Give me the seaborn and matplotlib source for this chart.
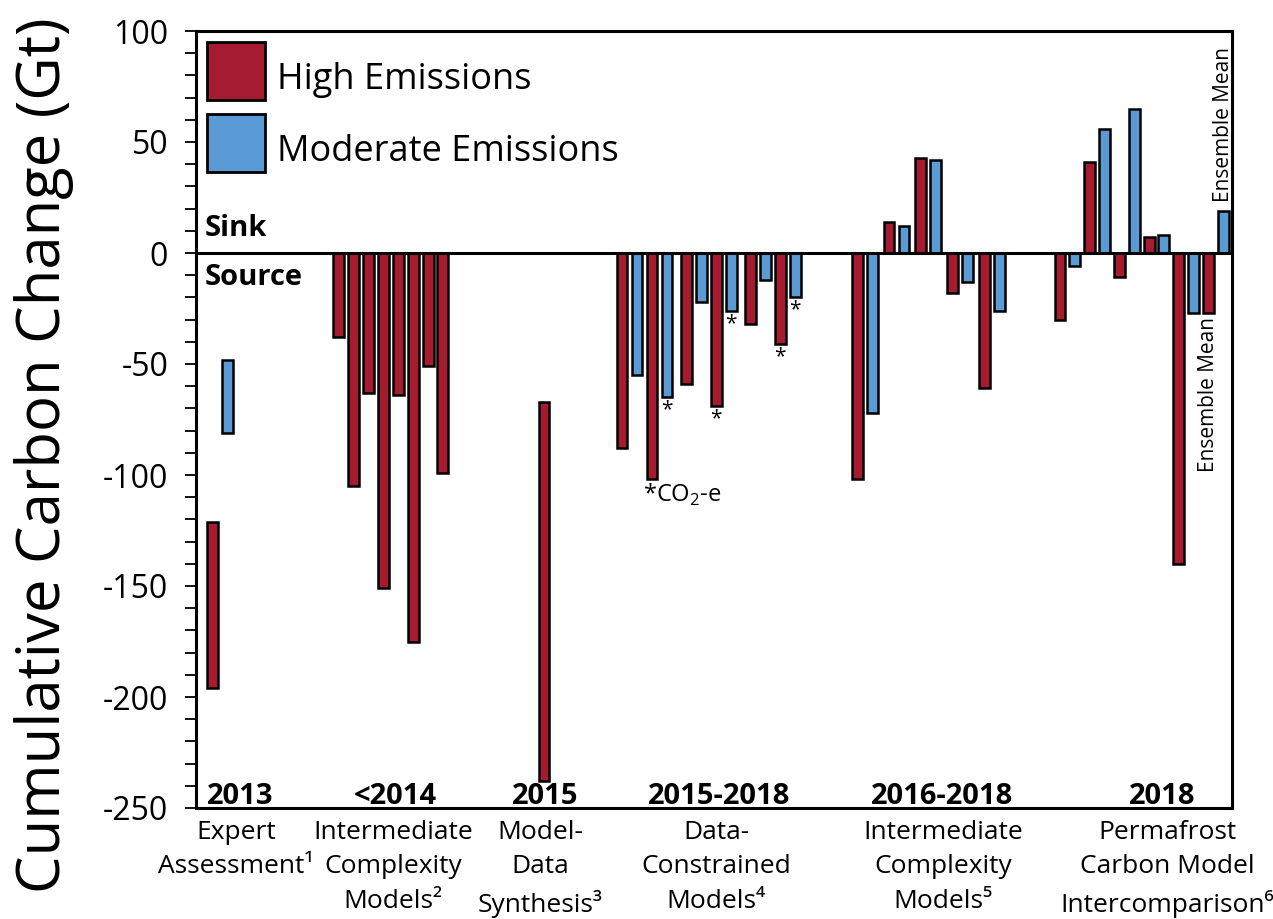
import numpy as np
import pandas as pd
import seaborn as sns
import matplotlib
matplotlib.use('Agg')
import matplotlib.pyplot as plt
from matplotlib.patches import Rectangle
from matplotlib.ticker import MultipleLocator

# Values (cumulative carbon change, Gt; negative = source)
years = ['2013', '<2014', '2015', '2015-2018', '2016-2018', '2018']
studies = ['Expert\nAssessment\u00b9',
           'Intermediate\nComplexity\nModels\u00b2',
           'Model-\nData\nSynthesis\u00b3',
           'Data-\nConstrained\nModels\u2074',
           'Intermediate\nComplexity\nModels\u2075',
           'Permafrost\nCarbon Model\nIntercomparison\u2076']

# ranges are (upper, lower)
expert_high = (-121, -196)
expert_moderate = (-48, -81)
synthesis_high = (-67, -238)

icm2014_high = [-38, -105, -63, -151, -64, -175, -51, -99]

dcm_high = [-88, -102, -59, -69, -32, -41]
dcm_moderate = [-55, -65, -22, -26, -12, -20]
dcm_co2e = [False, True, False, True, False, True]

icm2018_high = [-102, 14, 43, -18, -61]
icm2018_moderate = [-72, 12, 42, -13, -26]

pcmip_high = [-30, 41, -11, 7, -140]
pcmip_moderate = [-6, 56, 65, 8, -27]
ensemble_high = -27
ensemble_moderate = 19

# layout / style
RED = '#A51C30'
BLUE = '#5B9BD5'
STEP = 0.99
year_x = [2.93, 13.27, 23.27, 34.87, 49.73, 64.4]
study_x = [2.67, 13.13, 22.93, 34.67, 49.8, 64.75]

sns.set_style('ticks')
plt.rcParams['font.family'] = ['Open Sans', 'DejaVu Sans']
plt.rcParams['axes.unicode_minus'] = False
plt.rcParams['mathtext.fontset'] = 'custom'
plt.rcParams['mathtext.rm'] = 'Open Sans'
for k in ['text.color', 'axes.labelcolor', 'axes.edgecolor', 'xtick.color', 'ytick.color']:
    plt.rcParams[k] = 'black'

rows = []


def add(x, value, scen, base=0.0, star=False):
    rows.append(dict(x=x, value=value, base=base, scenario=scen, star=star))


add(1.13, expert_high[1], 'High', base=expert_high[0])
add(2.13, expert_moderate[1], 'Moderate', base=expert_moderate[0])
for i, v in enumerate(icm2014_high):
    add(9.53 + i * STEP, v, 'High')
add(23.2, synthesis_high[1], 'High', base=synthesis_high[0])
for i, (h, m, c) in enumerate(zip(dcm_high, dcm_moderate, dcm_co2e)):
    x = 28.4 + 2 * i + 0.27 * (i // 2)
    add(x, h, 'High', star=c)
    add(x + 1, m, 'Moderate', star=c)
for i, (h, m) in enumerate(zip(icm2018_high, icm2018_moderate)):
    x = 44.07 + 2.13 * i
    add(x, h, 'High')
    add(x + 1, m, 'Moderate')
for i, (h, m) in enumerate(zip(pcmip_high, pcmip_moderate)):
    x = 57.6 + 2 * i * STEP
    add(x, h, 'High')
    add(x + STEP, m, 'Moderate')
x_ens = 57.6 + 10 * STEP
add(x_ens, ensemble_high, 'High')
add(x_ens + STEP, ensemble_moderate, 'Moderate')

df = pd.DataFrame(rows)

fig = plt.figure(figsize=(12.73, 9.19), dpi=100)
ax = fig.add_axes([196 / 1273, 1 - 808 / 919, 1036 / 1273, 777 / 919])

sns.barplot(data=df, x='x', y='value', hue='scenario',
            palette={'High': RED, 'Moderate': BLUE}, native_scale=True,
            dodge=False, width=0.74, edgecolor='black', linewidth=1.8,
            saturation=1, errorbar=None, legend=False, ax=ax)

# floating ranges: move bars so they start at their upper value
for bar in ax.patches:
    cx = bar.get_x() + bar.get_width() / 2
    r = df.iloc[(df['x'] - cx).abs().argmin()]
    if r.base != 0:
        bar.set_y(r.base)
        bar.set_height(r.value - r.base)

ax.axhline(0, color='black', lw=2.2, zorder=4)
ax.set_xlim(0, 1036 / 15)
ax.set_ylim(-250, 100)
ax.set_xticks([])
ax.set_xlabel('')
ax.yaxis.set_major_locator(MultipleLocator(50))
ax.yaxis.set_minor_locator(MultipleLocator(10))
ax.tick_params(axis='y', which='both', direction='out', length=8, width=1.3,
               labelsize=23, pad=12)
for s in ax.spines.values():
    s.set_visible(True)
    s.set_linewidth(2.2)

ax.set_ylabel('Cumulative Carbon Change (Gt)', fontsize=43)
ax.yaxis.set_label_coords(-0.118, 0.454)

# asterisks for CO2-equivalent values
first = True
for _, r in df[df.star].iterrows():
    if r.scenario == 'High' and first:
        ax.text(r.x - 0.6, r.value - 1, '*CO$_2$-e', ha='left', va='top', fontsize=17)
        first = False
    else:
        ax.text(r.x, r.value - 1, '*', ha='center', va='top', fontsize=15)

ax.text(x_ens + STEP, ensemble_moderate + 4, 'Ensemble Mean', rotation=90,
        ha='center', va='bottom', fontsize=15)
ax.text(x_ens, ensemble_high - 2, 'Ensemble Mean', rotation=90,
        ha='center', va='top', fontsize=15)

ax.text(0.6, 11, 'Sink', fontweight='bold', va='center', fontsize=21)
ax.text(0.6, -11, 'Source', fontweight='bold', va='center', fontsize=21)

for xx, yr in zip(year_x, years):
    ax.text(xx, -245, yr, ha='center', va='center', fontweight='bold', fontsize=21)
for xx, st in zip(study_x, studies):
    ax.text(xx, -0.015, st, transform=ax.get_xaxis_transform(), ha='center',
            va='top', multialignment='center', fontsize=19, linespacing=1.5)

# legend
for i, (lab, col) in enumerate([('High Emissions', RED), ('Moderate Emissions', BLUE)]):
    y0 = 0.911 - i * 0.0925
    ax.add_patch(Rectangle((0.0106, y0), 0.056, 0.0746, transform=ax.transAxes,
                           facecolor=col, edgecolor='black', lw=2, zorder=5))
    ax.text(0.078, y0 + 0.026, lab, transform=ax.transAxes, va='center', fontsize=26)

fig.savefig('out.png', dpi=100)
